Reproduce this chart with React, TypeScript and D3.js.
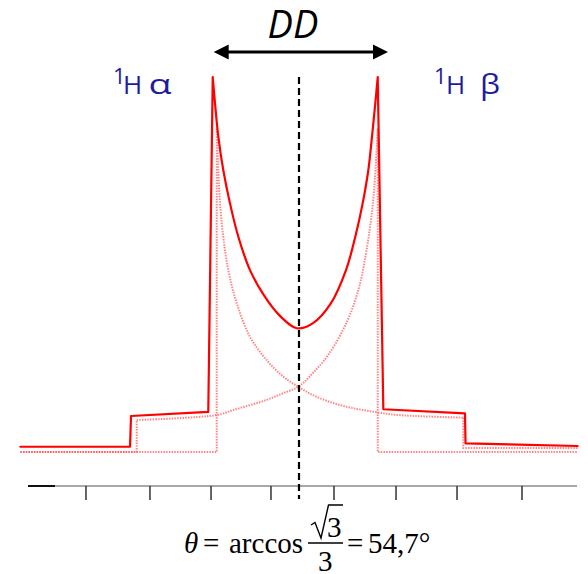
import React from 'react';
import * as d3 from 'd3';

const W = 588;
const H = 574;

// ν in units of D/2 (0 = magic-angle position), intensity normalised to the horn of the sum
const sumLeft: [number, number][] = [
  [-3.44, 0.014], [-2.086, 0.014], [-2.074, 0.096], [-1.12, 0.107], [-1.065, 1.0],
];
const sumMid: [number, number][] = [
  [-1.065, 1.0], [-1.037, 0.93], [-0.996, 0.841], [-0.935, 0.752], [-0.852, 0.663],
  [-0.749, 0.574], [-0.605, 0.485], [-0.43, 0.417], [-0.235, 0.363], [-0.028, 0.33],
  [0.169, 0.343], [0.395, 0.397], [0.58, 0.485], [0.695, 0.574], [0.786, 0.663],
  [0.856, 0.752], [0.901, 0.841], [0.942, 0.93], [0.972, 1.0],
];
const sumRight: [number, number][] = [
  [0.972, 1.0], [1.041, 0.114], [2.049, 0.103], [2.056, 0.023], [3.44, 0.016],
];

// component α (horn at low ν)
const alphaLeft: [number, number][] = [[-3.44, 0], [-1.016, 0], [-1.016, 0.863]];
const alphaMid: [number, number][] = [
  [-1.016, 0.863], [-0.996, 0.752], [-0.975, 0.663], [-0.935, 0.574], [-0.873, 0.485],
  [-0.769, 0.397], [-0.605, 0.307], [-0.399, 0.245], [-0.194, 0.201], [-0.009, 0.174],
  [0.169, 0.152], [0.374, 0.134], [0.58, 0.121], [0.786, 0.112], [0.991, 0.105],
  [1.198, 0.099], [2.028, 0.0915],
];
const alphaRight: [number, number][] = [[2.028, 0.0915], [2.028, 0.0107], [3.44, 0.0107]];

// component β (horn at high ν)
const betaLeft: [number, number][] = [[-3.44, 0], [-2.004, 0], [-2.004, 0.0853]];
const betaMid: [number, number][] = [
  [-2.004, 0.0853], [-1.016, 0.0987], [-0.811, 0.112], [-0.399, 0.139], [-0.194, 0.157],
  [-0.009, 0.174], [0.169, 0.21], [0.374, 0.263], [0.601, 0.352], [0.744, 0.441],
  [0.827, 0.53], [0.889, 0.619], [0.93, 0.707], [0.972, 0.863],
];
const betaRight: [number, number][] = [[0.972, 0.863], [0.972, 0], [3.44, 0]];

const tickValues = [-2.63, -1.84, -1.086, -0.346, 0.432, 1.198, 1.951, 2.753];
const arrowSpan: [number, number] = [-1.053, 1.099];

const x = d3.scaleLinear().domain([-3.5, 3.5]).range([15.5, 582.5]);
const y = d3.scaleLinear().domain([0, 1]).range([452, 77]);

const lin = d3.line<[number, number]>().x(d => x(d[0])).y(d => y(d[1]));
const smooth = d3
  .line<[number, number]>()
  .x(d => x(d[0]))
  .y(d => y(d[1]))
  .curve(d3.curveCatmullRom.alpha(0.5));

const pathOf = (a: [number, number][], m: [number, number][], b: [number, number][]) =>
  (lin(a) || '') + (smooth(m) || '') + (lin(b) || '');

const blue = '#1c1c9e';

export default function App() {
  const axisY = 486;
  const arrowY = 52;
  const ax0 = x(arrowSpan[0]);
  const ax1 = x(arrowSpan[1]);
  const headL = 15;
  const headH = 7.5;
  return (
    <svg
      width={W}
      height={H}
      viewBox={`0 0 ${W} ${H}`}
      style={{ position: 'absolute', left: 0, top: 0, background: '#fff' }}
    >
      {/* axis */}
      <line x1={x(-3.012)} x2={x(3.432)} y1={axisY} y2={axisY} stroke="#a8a8a8" strokeWidth={2} />
      <line x1={x(-3.346)} x2={x(-3.012)} y1={axisY} y2={axisY} stroke="#111" strokeWidth={2} />
      {tickValues.map((t, i) => (
        <line key={i} x1={x(t)} x2={x(t)} y1={axisY} y2={axisY + 14} stroke="#333" strokeWidth={1.5} />
      ))}

      {/* components */}
      <path
        d={pathOf(alphaLeft, alphaMid, alphaRight)}
        fill="none"
        stroke="#ff5050"
        strokeOpacity={0.7}
        strokeWidth={2}
        strokeDasharray="1.5 1.2"
      />
      <path
        d={pathOf(betaLeft, betaMid, betaRight)}
        fill="none"
        stroke="#ff5050"
        strokeOpacity={0.7}
        strokeWidth={2}
        strokeDasharray="1.5 1.2"
      />

      {/* sum */}
      <path
        d={pathOf(sumLeft, sumMid, sumRight)}
        fill="none"
        stroke="#ff0000"
        strokeWidth={2.2}
        strokeLinejoin="round"
        strokeLinecap="round"
      />

      {/* magic angle line */}
      <line
        x1={x(0)}
        x2={x(0)}
        y1={y(1)}
        y2={y(-0.125)}
        stroke="#000"
        strokeWidth={2.2}
        strokeDasharray="7 4"
      />

      {/* DD arrow */}
      <line x1={ax0 + headL - 1} x2={ax1 - headL + 1} y1={arrowY} y2={arrowY} stroke="#000" strokeWidth={3} />
      <polygon
        points={`${ax0},${arrowY} ${ax0 + headL},${arrowY - headH} ${ax0 + headL},${arrowY + headH}`}
        fill="#000"
      />
      <polygon
        points={`${ax1},${arrowY} ${ax1 - headL},${arrowY - headH} ${ax1 - headL},${arrowY + headH}`}
        fill="#000"
      />
      <text
        x={293}
        y={38}
        textAnchor="middle"
        fontFamily="'Open Sans', sans-serif"
        fontStyle="italic"
        fontSize={38}
        fill="#000"
      >
        DD
      </text>

      {/* labels */}
      <g fontFamily="'Open Sans', sans-serif" fill={blue}>
        <text y={93.5}>
          <tspan x={113} dy={-9.5} fontSize={22}>1</tspan>
          <tspan x={123} dy={9.5} fontSize={26}>H</tspan>
          <tspan x={148.5} fontSize={27} textLength={23} lengthAdjust="spacingAndGlyphs">α</tspan>
        </text>
        <text y={93.5}>
          <tspan x={434} dy={-9.5} fontSize={22}>1</tspan>
          <tspan x={446} dy={9.5} fontSize={26}>H</tspan>
          <tspan x={480} fontSize={27} textLength={20} lengthAdjust="spacingAndGlyphs">β</tspan>
        </text>
      </g>

      {/* formula */}
      <g fontFamily="'Liberation Serif', 'Times New Roman', serif" fontSize={29} fill="#000">
        <text x={184} y={553} fontStyle="italic">θ</text>
        <text x={203} y={553}>=</text>
        <text x={229} y={553}>arccos</text>
        <path
          d="M311,525 L315,522.5 L321,538 L328.5,505 L343,505"
          fill="none"
          stroke="#000"
          strokeWidth={1.4}
          strokeLinejoin="miter"
        />
        <text x={327} y={537}>3</text>
        <line x1={308} x2={343} y1={543} y2={543} stroke="#000" strokeWidth={1.4} />
        <text x={318} y={571}>3</text>
        <text x={347} y={553}>=</text>
        <text x={368} y={553}>54,7°</text>
      </g>
    </svg>
  );
}
